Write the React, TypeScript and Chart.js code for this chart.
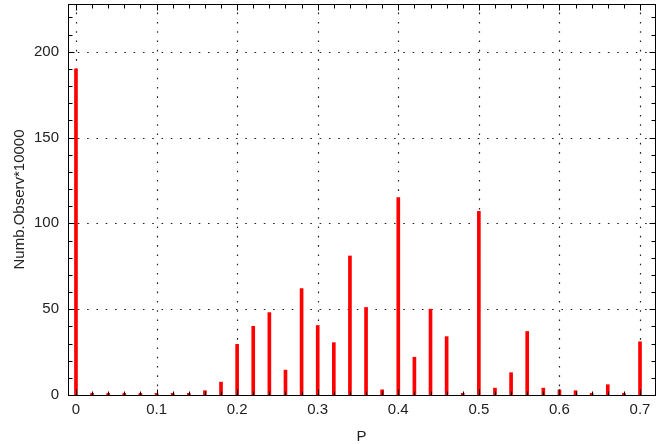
import React, { useEffect, useRef } from 'react';
import { Chart, registerables } from 'chart.js';

Chart.register(...registerables);

// Probability values (x positions of the bars)
const pValues = [
  0, 0.02, 0.04, 0.06, 0.08, 0.1, 0.12, 0.14, 0.16, 0.18,
  0.2, 0.22, 0.24, 0.26, 0.28, 0.3, 0.32, 0.34, 0.36, 0.38,
  0.4, 0.42, 0.44, 0.46, 0.48, 0.5, 0.52, 0.54, 0.56, 0.58,
  0.6, 0.62, 0.64, 0.66, 0.68, 0.7,
];

// Number of observations * 10000
const counts = [
  190, 1, 1, 1, 1, 1, 1, 1, 2.5, 7.5,
  29.5, 40, 48, 14.5, 62, 40.5, 30.5, 81, 51, 3,
  115, 22, 50, 34, 1, 107, 4, 13, 37, 4,
  3, 2.5, 1, 6, 1, 31,
];

const xTickLabels = [0, 0.1, 0.2, 0.3, 0.4, 0.5, 0.6, 0.7];
const xMinorTicks = pValues;
const yTickLabels = [0, 50, 100, 150, 200];
const yMinorTicks = [0, 10, 20, 30, 40, 50, 60, 70, 80, 90, 100, 110, 120, 130, 140, 150, 160, 170, 180, 190, 200, 210, 220];

const X_MIN = -0.0099;
const X_MAX = 0.7186;
const Y_MIN = 0;
const Y_MAX = 227.8;

const FONT = 'Liberation Sans, Arial, sans-serif';

const framePlugin = {
  id: 'gnuplotFrame',
  beforeDatasetsDraw(chart: any) {
    const { ctx, chartArea } = chart;
    const xs = chart.scales.x;
    const ys = chart.scales.y;
    const L = Math.round(chartArea.left) + 0.5;
    const R = Math.round(chartArea.right) + 0.5;
    const T = Math.round(chartArea.top) + 0.5;
    const B = Math.round(chartArea.bottom) + 0.5;
    ctx.save();
    ctx.strokeStyle = '#222';
    ctx.lineWidth = 1.2;
    ctx.setLineDash([1.6, 7.7]);
    for (const v of xTickLabels) {
      const px = Math.round(xs.getPixelForValue(v)) + 0.5;
      ctx.beginPath();
      ctx.moveTo(px, B);
      ctx.lineTo(px, T);
      ctx.stroke();
    }
    for (const v of yTickLabels) {
      if (v === 0) continue;
      const py = Math.round(ys.getPixelForValue(v)) + 0.5;
      ctx.beginPath();
      ctx.moveTo(L, py);
      ctx.lineTo(R, py);
      ctx.stroke();
    }
    ctx.restore();
  },
  afterDatasetsDraw(chart: any) {
    const { ctx, chartArea } = chart;
    const xs = chart.scales.x;
    const ys = chart.scales.y;
    const L = Math.round(chartArea.left) + 0.5;
    const R = Math.round(chartArea.right) + 0.5;
    const T = Math.round(chartArea.top) + 0.5;
    const B = Math.round(chartArea.bottom) + 0.5;
    ctx.save();
    ctx.strokeStyle = '#000';
    ctx.lineWidth = 1;
    ctx.setLineDash([]);
    ctx.strokeRect(L, T, R - L, B - T);
    const isMajorX = (v: number) => xTickLabels.some((m) => Math.abs(m - v) < 1e-6);
    const isMajorY = (v: number) => yTickLabels.includes(v);
    ctx.beginPath();
    for (const v of xMinorTicks) {
      const px = Math.round(xs.getPixelForValue(v)) + 0.5;
      const len = isMajorX(v) ? 6 : 4;
      ctx.moveTo(px, B);
      ctx.lineTo(px, B - len);
      ctx.moveTo(px, T);
      ctx.lineTo(px, T + len);
    }
    for (const v of yMinorTicks) {
      const py = Math.round(ys.getPixelForValue(v)) + 0.5;
      const len = isMajorY(v) ? 6 : 4;
      ctx.moveTo(L, py);
      ctx.lineTo(L + len, py);
      ctx.moveTo(R, py);
      ctx.lineTo(R - len, py);
    }
    ctx.stroke();
    ctx.restore();
  },
};

function App() {
  const canvasRef = useRef<HTMLCanvasElement | null>(null);

  useEffect(() => {
    if (!canvasRef.current) return;
    const chart = new Chart(canvasRef.current, {
      type: 'bar',
      data: {
        datasets: [
          {
            data: pValues.map((p, i) => ({ x: p, y: counts[i] })),
            backgroundColor: '#ff0000',
            borderWidth: 0,
            barThickness: 3,
          },
        ],
      },
      options: {
        animation: false,
        responsive: true,
        maintainAspectRatio: false,
        layout: { padding: { left: 0, right: 6, top: 4, bottom: 0 } },
        plugins: {
          legend: { display: false },
          tooltip: { enabled: false },
        },
        scales: {
          x: {
            type: 'linear',
            min: X_MIN,
            max: X_MAX,
            offset: false,
            grid: { display: false, drawTicks: false },
            border: { display: false },
            afterBuildTicks: (scale: any) => {
              scale.ticks = xTickLabels.map((v) => ({ value: v }));
            },
            afterFit: (scale: any) => {
              scale.height = 49;
              scale.paddingLeft = 0;
              scale.paddingRight = 0;
            },
            ticks: {
              padding: 6,
              color: '#222',
              font: { family: FONT, size: 15 },
              maxRotation: 0,
              autoSkip: false,
              callback: (v: any) => String(Number(Number(v).toFixed(2))),
            },
            title: {
              display: true,
              text: 'P',
              color: '#222',
              font: { family: FONT, size: 15, lineHeight: 1 },
              padding: { top: 0, bottom: 0 },
            },
          },
          y: {
            type: 'linear',
            min: Y_MIN,
            max: Y_MAX,
            grid: { display: false, drawTicks: false },
            border: { display: false },
            afterBuildTicks: (scale: any) => {
              scale.ticks = yTickLabels.map((v) => ({ value: v }));
            },
            afterFit: (scale: any) => {
              scale.width = 68;
              scale.paddingTop = 0;
              scale.paddingBottom = 0;
            },
            ticks: {
              padding: 9,
              color: '#222',
              font: { family: FONT, size: 15 },
              autoSkip: false,
            },
            title: {
              display: true,
              text: 'Numb.Observ*10000',
              color: '#222',
              font: { family: FONT, size: 15, lineHeight: 1 },
              padding: { top: 12.5, bottom: 0 },
            },
          },
        },
      },
      plugins: [framePlugin],
    });
    return () => chart.destroy();
  }, []);

  return (
    <div style={{ position: 'fixed', left: 0, top: 0, width: 661, height: 444, background: '#fff' }}>
      <canvas ref={canvasRef} />
    </div>
  );
}

export default App;
